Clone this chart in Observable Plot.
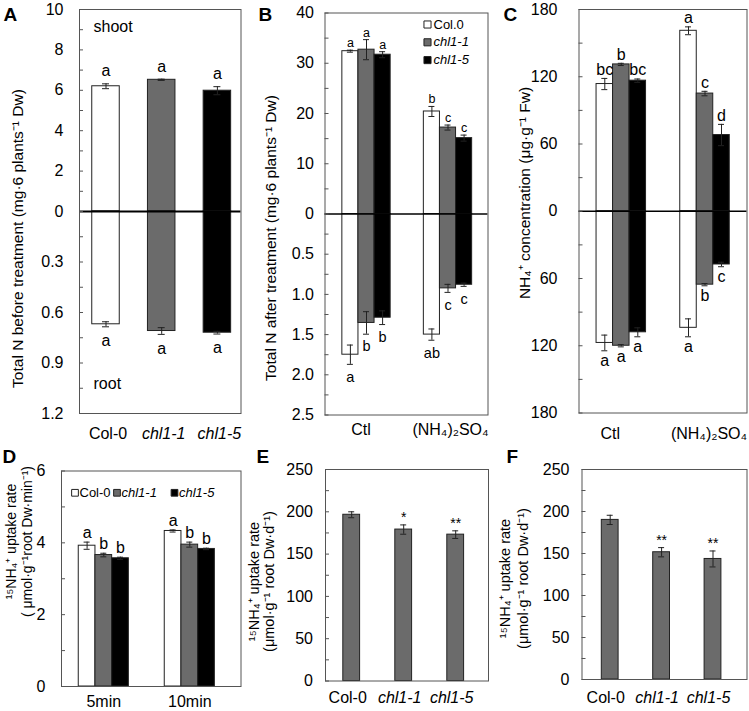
<!DOCTYPE html>
<html><head><meta charset="utf-8">
<script src="https://cdn.jsdelivr.net/npm/d3@7"></script>
<script src="https://cdn.jsdelivr.net/npm/@observablehq/plot@0.6"></script>
<style>
html,body{margin:0;padding:0;background:#fff;}
#fig{position:relative;width:749px;height:711px;overflow:hidden;}
#fig svg{position:absolute;left:0;top:0;}
</style></head>
<body><div id="fig"></div>
<script>
// ---------------- data ----------------
const genotypes = ["Col-0", "chl1-1", "chl1-5"];

// Panel A (total N before treatment)
const aShoot = [6.2, 6.52, 5.98];
const aShootErr = [0.12, 0.03, 0.2];
const aRoot = [0.67, 0.71, 0.72];
const aRootErr = [0.015, 0.02, 0.008];
const aShootLetters = ["a", "a", "a"];
const aRootLetters = ["a", "a", "a"];
const aTicksShoot = [0, 2, 4, 6, 8, 10];
const aTicksRoot = [0.3, 0.6, 0.9, 1.2];

// Panel B (total N after treatment)
const treatments = ["Ctl", "(NH₄)₂SO₄"];
const bShootCtl = [32.4, 32.7, 31.7];
const bShootCtlErr = [0.2, 2.0, 0.6];
const bShootNH4 = [20.4, 17.2, 15.1];
const bShootNH4Err = [1.0, 0.5, 0.6];
const bRootCtl = [1.75, 1.355, 1.29];
const bRootCtlErr = [0.12, 0.14, 0.085];
const bRootNH4 = [1.50, 0.925, 0.88];
const bRootNH4Err = [0.07, 0.05, 0.02];
const bShootLettersCtl = ["a", "a", "a"];
const bShootLettersNH4 = ["b", "c", "c"];
const bRootLettersCtl = ["a", "b", "b"];
const bRootLettersNH4 = ["ab", "c", "c"];
const bTicksShoot = [0, 10, 20, 30, 40];
const bTicksRoot = [0.5, 1.0, 1.5, 2.0, 2.5];
const bLegendLabels = ["Col.0", "chl1-1", "chl1-5"];

// Panel C (NH4+ concentration)
const cShootCtl = [113.5, 131, 116.5];
const cShootCtlErr = [5, 1, 1.5];
const cShootNH4 = [161, 105, 68];
const cShootNH4Err = [3.5, 2, 9.5];
const cRootCtl = [117.5, 120, 108];
const cRootCtlErr = [7, 1, 4];
const cRootNH4 = [104, 65.5, 47.5];
const cRootNH4Err = [8, 1, 2];
const cShootLettersCtl = ["bc", "b", "bc"];
const cShootLettersNH4 = ["a", "c", "d"];
const cRootLettersCtl = ["a", "a", "a"];
const cRootLettersNH4 = ["a", "b", "c"];
const cTicks = [0, 60, 120, 180];

// Panel D (15NH4+ uptake, short term)
const times = ["5min", "10min"];
const d5min = [3.92, 3.66, 3.57];
const d5minErr = [0.1, 0.05, 0.03];
const d10min = [4.33, 3.95, 3.83];
const d10minErr = [0.03, 0.07, 0.02];
const d5minLetters = ["a", "b", "b"];
const d10minLetters = ["a", "b", "b"];
const dTicks = [0, 2, 4, 6];
const dLegendLabels = ["Col-0", "chl1-1", "chl1-5"];

// Panel E
const eUptake = [196.5, 179, 173];
const eUptakeErr = [3.5, 5.5, 4.5];
const eStars = ["", "*", "**"];
// Panel F
const fUptake = [190, 151.5, 143.5];
const fUptakeErr = [5.5, 5.5, 9.5];
const fStars = ["", "**", "**"];
const efTicks = [0, 50, 100, 150, 200, 250];

// ---------------- styling / layout ----------------
const W = 749, H = 711;
const FONT = '"Liberation Sans", Arial, Helvetica, sans-serif';
const INK = "#222", FRAMEC = "#555", TXT = "#000";
const genoFill = ["#ffffff", "#6b6b6b", "#000000"];
const uptakeFill = "#6b6b6b";

const frA = [79, 9, 240.5, 413];
const frB = [324.5, 12.5, 487.5, 414.5];
const frC = [578.5, 9, 746.5, 412.5];
const frD = [61, 470.5, 240.5, 686];
const frE = [325, 469, 488, 680.5];
const frF = [581.5, 469, 746.5, 679];

function makePlot(fr, x, y, marks) {
  const [x0, y0, x1, y1] = fr;
  return Plot.plot({
    width: W, height: H,
    marginLeft: x0, marginRight: W - x1, marginTop: y0, marginBottom: H - y1,
    x: {type: "band", padding: 0, round: false, axis: null, ...x},
    y: y,
    color: {domain: genotypes, range: genoFill},
    style: {background: "transparent", fontFamily: FONT, fontSize: "16px", color: "#000", overflow: "visible"},
    marks
  });
}
function yLabels(ticks, fmt, pad, size = 16) {
  return Plot.axisY({ticks, tickSize: 0, tickPadding: pad, tickFormat: fmt, label: null, fontSize: size, fill: TXT});
}
function inTicks(vals, fr) {
  return Plot.tickY(vals, {y: d => d, insetRight: (fr[2] - fr[0]) - 4, stroke: FRAMEC});
}
function frameMark() { return Plot.frame({stroke: FRAMEC, strokeWidth: 1}); }
function panelLetter(t, fr, x, y) {
  return Plot.text([t], {text: d => d, frameAnchor: "top-left", textAnchor: "start", lineAnchor: "bottom",
    dx: x - fr[0], dy: y - fr[1], fontWeight: "bold", fontSize: 19, fill: TXT});
}
function yTitle(t, fr, cx, cy, size, lh = 1.2) {
  return Plot.text([t], {text: d => d, frameAnchor: "left", rotate: -90, textAnchor: "middle", lineAnchor: "middle",
    dx: cx - fr[0], dy: cy - (fr[1] + fr[3]) / 2, fontSize: size, lineHeight: lh, fill: TXT});
}
function frameText(t, fr, anchor, x, y, o = {}) {
  return Plot.text([t], {text: d => d, frameAnchor: anchor, textAnchor: "start", lineAnchor: "middle", dx: x, dy: y, fill: TXT, ...o});
}

function rowsGrouped(groups, tops, topErrs, topLets, bots, botErrs, botLets, k) {
  const rows = [];
  groups.forEach((grp, gi) => genotypes.forEach((g, i) => rows.push({
    grp, g, i,
    top: tops[gi][i], te: topErrs[gi][i], lt: topLets[gi][i],
    bot: bots ? -bots[gi][i] * k : 0, be: bots ? botErrs[gi][i] * k : 0, lb: bots ? botLets[gi][i] : ""
  })));
  return rows;
}

function barMarks(rows, o) {
  const {xf, step, barW, capW, dodge, topSize, topDy, botSize, botDy, bottom, fill = "g"} = o;
  const ins = (step - barW) / 2, capIns = (step - capW) / 2;
  const bars = [], errs = [], lets = [];
  genotypes.forEach((g, i) => {
    const r = rows.filter(d => d.i === i);
    const dx = dodge ? (i - 1) * barW : 0;
    bars.push(Plot.barY(r, {x: xf, y1: 0, y2: "top", fill, stroke: INK, strokeWidth: 1, insetLeft: ins, insetRight: ins, dx}));
    errs.push(Plot.ruleX(r, {x: xf, y1: d => d.top - d.te, y2: d => d.top + d.te, stroke: INK, dx}));
    errs.push(Plot.tickY(r, {x: xf, y: d => d.top + d.te, insetLeft: capIns, insetRight: capIns, stroke: INK, dx}));
    errs.push(Plot.tickY(r, {x: xf, y: d => d.top - d.te, insetLeft: capIns, insetRight: capIns, stroke: INK, dx}));
    lets.push(Plot.text(r, {x: xf, y: d => d.top + d.te, text: "lt", lineAnchor: "bottom", dy: topDy, fontSize: topSize, dx, fill: TXT}));
    if (bottom) {
      bars.push(Plot.barY(r, {x: xf, y1: 0, y2: "bot", fill, stroke: INK, strokeWidth: 1, insetLeft: ins, insetRight: ins, dx}));
      errs.push(Plot.ruleX(r, {x: xf, y1: d => d.bot - d.be, y2: d => d.bot + d.be, stroke: INK, dx}));
      errs.push(Plot.tickY(r, {x: xf, y: d => d.bot - d.be, insetLeft: capIns, insetRight: capIns, stroke: INK, dx}));
      errs.push(Plot.tickY(r, {x: xf, y: d => d.bot + d.be, insetLeft: capIns, insetRight: capIns, stroke: INK, dx}));
      lets.push(Plot.text(r, {x: xf, y: d => d.bot - d.be, text: "lb", lineAnchor: "top", dy: botDy, fontSize: botSize, dx, fill: TXT}));
    }
  });
  return {bars, errs, lets};
}
function xText(vals, dx, dy, italic, size = 16) {
  return Plot.text(vals, {x: d => d, text: d => d, frameAnchor: "bottom", lineAnchor: "middle", dy, dx, fontSize: size,
    fontStyle: italic ? "italic" : "normal", fill: TXT});
}

const fig = document.getElementById("fig");

// ---------------- Panel A ----------------
{
  const kA = 10 / 1.2;
  const rows = genotypes.map((g, i) => ({g, i, top: aShoot[i], te: aShootErr[i], lt: aShootLetters[i],
    bot: -aRoot[i] * kA, be: aRootErr[i] * kA, lb: aRootLetters[i]}));
  const step = 55.7;
  const m = barMarks(rows, {xf: "g", step, barW: 27.5, capW: 7, dodge: false, topSize: 16, topDy: -7.5, botSize: 16, botDy: 8, bottom: true});
  const minor = [...d3.range(0, 10.01, 1), ...d3.range(1, 9, 1).map(j => -j * 0.15 * kA)];
  fig.append(makePlot(frA, {domain: genotypes, range: [105.5 - step / 2, 105.5 + step * 2.5]}, {domain: [-10, 10]}, [
    ...m.bars,
    Plot.ruleY([0], {stroke: "#000", strokeWidth: 2}),
    ...m.errs, ...m.lets,
    frameText("shoot", frA, "top-left", 14, 17, {fontSize: 16}),
    frameText("root", frA, "bottom-left", 14, -30, {fontSize: 16}),
    inTicks(minor, frA),
    frameMark(),
    yLabels([...aTicksShoot, ...aTicksRoot.map(v => -v * kA)],
      d => d >= 0 ? d3.format("d")(d) : d3.format(".1f")(-d / kA), 16),
    yTitle("Total N before treatment (mg·6 plants⁻¹ Dw)", frA, 17, 238, 15.5),
    xText(genotypes.slice(0, 1), 2, 20, false),
    xText(genotypes.slice(1), 2, 20, true),
    panelLetter("A", frA, 3, 20)
  ]));
}

// ---------------- Panel B ----------------
{
  const kB = 16;
  const rows = rowsGrouped(treatments, [bShootCtl, bShootNH4], [bShootCtlErr, bShootNH4Err], [bShootLettersCtl, bShootLettersNH4],
    [bRootCtl, bRootNH4], [bRootCtlErr, bRootNH4Err], [bRootLettersCtl, bRootLettersNH4], kB);
  const step = 81.5;
  const m = barMarks(rows, {xf: "grp", step, barW: 16.1, capW: 6, dodge: true, topSize: 12.5, topDy: -3, botSize: 14.5, botDy: 7, bottom: true});
  const minor = [...d3.range(0, 40.01, 5), ...d3.range(1, 11, 1).map(j => -j * 0.25 * kB)];
  const legend = [];
  genotypes.forEach((g, i) => {
    legend.push(Plot.dot([g], {fill: d => d, frameAnchor: "top-left", dx: 427 - frB[0], dy: 24 - frB[1] + i * 17.8, symbol: "square", r: 4, stroke: INK, strokeWidth: 1}));
    legend.push(frameText(bLegendLabels[i], frB, "top-left", 433 - frB[0], 24 - frB[1] + i * 17.8, {fontSize: 13, fontStyle: i ? "italic" : "normal"}));
  });
  fig.append(makePlot(frB, {domain: treatments, range: [366 - step / 2, 366 + step * 1.5]}, {domain: [-40, 40]}, [
    ...m.bars,
    Plot.ruleY([0], {stroke: "#000", strokeWidth: 1.5}),
    ...m.errs, ...m.lets,
    ...legend,
    inTicks(minor, frB),
    frameMark(),
    yLabels([...bTicksShoot, ...bTicksRoot.map(v => -v * kB)],
      d => d >= 0 ? d3.format("d")(d) : d3.format(".1f")(-d / kB), 11),
    yTitle("Total N after treatment (mg·6 plants⁻¹ Dw)", frB, 270, 237.5, 15.5),
    xText(treatments.slice(0, 1), -5.5, 15, false),
    xText(treatments.slice(1), 2.5, 15, false),
    panelLetter("B", frB, 258, 20)
  ]));
}

// ---------------- Panel C ----------------
{
  const rows = rowsGrouped(treatments, [cShootCtl, cShootNH4], [cShootCtlErr, cShootNH4Err], [cShootLettersCtl, cShootLettersNH4],
    [cRootCtl, cRootNH4], [cRootCtlErr, cRootNH4Err], [cRootLettersCtl, cRootLettersNH4], 1);
  const step = 83.7;
  const m = barMarks(rows, {xf: "grp", step, barW: 16.5, capW: 6, dodge: true, topSize: 16, topDy: -3.5, botSize: 16, botDy: 4, bottom: true});
  fig.append(makePlot(frC, {domain: treatments, range: [620.8 - step / 2, 620.8 + step * 1.5]}, {domain: [-180, 180]}, [
    ...m.bars,
    Plot.ruleY([0], {stroke: "#000", strokeWidth: 1.5}),
    ...m.errs, ...m.lets,
    inTicks(d3.range(-180, 181, 30), frC),
    frameMark(),
    yLabels([...cTicks, ...cTicks.slice(1).map(v => -v)], d => d3.format("d")(Math.abs(d)), 21.5),
    yTitle("NH₄⁺ concentration (μg·g⁻¹ Fw)", frC, 523.5, 192.5, 15.5),
    xText(treatments.slice(0, 1), -11, 21, false),
    xText(treatments.slice(1), 4, 21, false),
    panelLetter("C", frC, 503, 20)
  ]));
}

// ---------------- Panel D ----------------
{
  const rows = rowsGrouped(times, [d5min, d10min], [d5minErr, d10minErr], [d5minLetters, d10minLetters], null, null, null, 1);
  const step = 86;
  const m = barMarks(rows, {xf: "grp", step, barW: 16.7, capW: 6, dodge: true, topSize: 16, topDy: -4, bottom: false});
  const legend = [];
  const sqX = [74.5, 116.5, 174];
  genotypes.forEach((g, i) => {
    legend.push(Plot.dot([g], {fill: d => d, frameAnchor: "top-left", dx: sqX[i] - frD[0], dy: 492.3 - frD[1], symbol: "square", r: 3.8, stroke: INK, strokeWidth: 1}));
    legend.push(frameText(dLegendLabels[i], frD, "top-left", sqX[i] + 4.5 - frD[0], 492.3 - frD[1], {fontSize: 13, fontStyle: i ? "italic" : "normal"}));
  });
  fig.append(makePlot(frD, {domain: times, range: [103.3 - step / 2, 103.3 + step * 1.5]}, {domain: [0, 6]}, [
    ...m.bars, ...m.errs, ...m.lets,
    ...legend,
    inTicks(d3.range(0, 6.01, 1), frD),
    frameMark(),
    yLabels(dTicks, d => d3.format("d")(d), 16),
    yTitle("¹⁵NH₄⁺ uptake rate\n( μmol·g⁻¹root Dw·min⁻¹)", frD, 18, 541, 14, 1.15),
    xText(times, 0, 15, false),
    panelLetter("D", frD, 2, 462)
  ]));
}

// ---------------- Panels E and F ----------------
function uptakePanel(fr, vals, errs, stars, center0, step, labelDx, labelDy, tcx, tcy, tlh, letter, lx, ly) {
  const rows = genotypes.map((g, i) => ({g, i, top: vals[i], te: errs[i], lt: stars[i]}));
  const m = barMarks(rows, {xf: "g", step, barW: 16.8, capW: 6, dodge: false, topSize: 14, topDy: -3, bottom: false, fill: uptakeFill});
  return makePlot(fr, {domain: genotypes, range: [center0 - step / 2, center0 + step * 2.5]}, {domain: [0, 250]}, [
    ...m.bars, ...m.errs, ...m.lets,
    inTicks(d3.range(0, 250.1, 25), fr),
    frameMark(),
    yLabels(efTicks, d => d3.format("d")(d), 12.5),
    yTitle("¹⁵NH₄⁺ uptake rate\n(μmol·g⁻¹ root Dw·d⁻¹)", fr, tcx, tcy, 14.5, tlh),
    xText(genotypes.slice(0, 1), labelDx, labelDy, false),
    xText(genotypes.slice(1), labelDx, labelDy, true),
    panelLetter(letter, fr, lx, ly)
  ]);
}
fig.append(uptakePanel(frE, eUptake, eUptakeErr, eStars, 351.2, 52, -4, 16.5, 261, 581, 1.05, "E", 256, 462));
fig.append(uptakePanel(frF, fUptake, fUptakeErr, fStars, 609.7, 51.4, -4.5, 18, 513, 578, 1.2, "F", 506, 462));
</script>
</body></html>
